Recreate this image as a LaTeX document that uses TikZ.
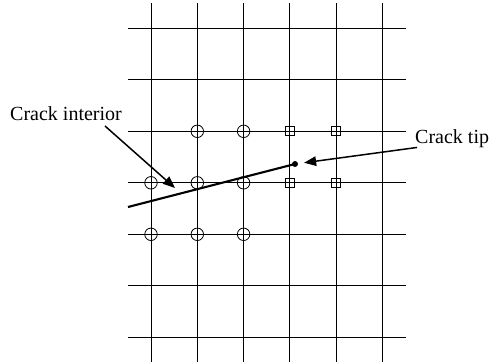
\documentclass[tikz,border=0pt]{standalone}
\usepackage{fontspec}
\setmainfont{Liberation Serif}
\usetikzlibrary{arrows.meta,positioning}

\begin{document}
\begin{tikzpicture}[
  x=1pt, y=-1pt,
  gridline/.style={black, line width=1pt},
  nodemark/.style={draw, circle, inner sep=0pt, minimum size=12.5pt, line width=0.8pt},
  tipmark/.style={draw, rectangle, inner sep=0pt, minimum size=9pt, line width=0.8pt},
  crack/.style={line width=2.1pt},
  arrow/.style={-{Triangle[length=12pt,width=9.5pt]}, line width=1.5pt},
  lbl/.style={font=\fontsize{20}{24}\selectfont, inner sep=0pt, anchor=base west},
]
\useasboundingbox (0,0) rectangle (493,362);

%% ---- Mesh ----
\foreach \i in {0,...,5}
  \draw[gridline] (151+46.3*\i,3) -- (151+46.3*\i,362);
\foreach \j in {0,...,6}
  \draw[gridline] (128,28.3+51.5*\j) -- (406,28.3+51.5*\j);

%% ---- Enriched nodes ----
\foreach \n/\x/\y in {c1/197.3/131.3, c2/243.6/131.3,
                      c3/151/182.8, c4/197.3/182.8, c5/243.6/182.8,
                      c6/151/234.3, c7/197.3/234.3, c8/243.6/234.3}
  \node[nodemark] (\n) at (\x,\y) {};
\foreach \n/\x/\y in {s1/289.9/131.3, s2/336.2/131.3,
                      s3/289.9/182.8, s4/336.2/182.8}
  \node[tipmark] (\n) at (\x,\y) {};

%% ---- Crack ----
\coordinate (mouth) at (128,207);
\node[fill, circle, inner sep=0pt, minimum size=6pt] (tip) at (295,164) {};
\draw[crack] (mouth) -- (tip.center);

%% ---- Labels ----
\node[lbl] (interior) at (10,120) {Crack interior};
\node[lbl] (tiplbl) at (415,143) {Crack tip};

\coordinate (intfrom) at (105,126);
\coordinate (intto) at (175,188);
\draw[arrow] (intfrom) -- (intto);
\draw[arrow, shorten >=6pt] ([xshift=2pt]tiplbl.south west) -- (tip);

\end{tikzpicture}
\end{document}
